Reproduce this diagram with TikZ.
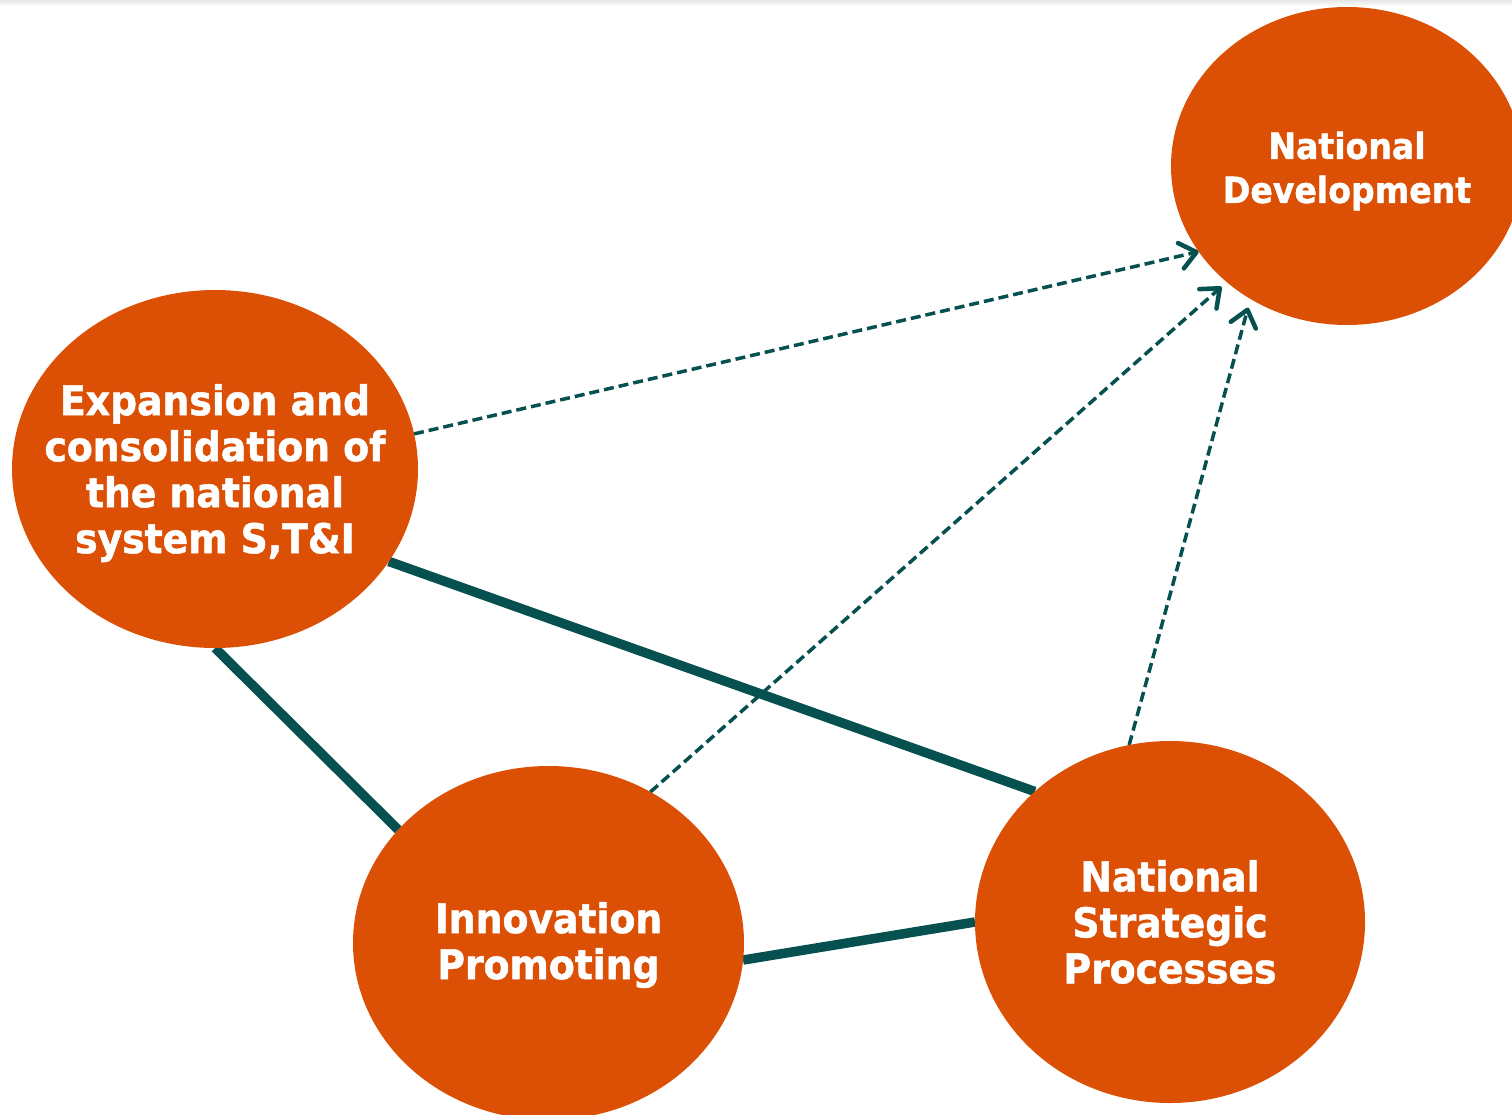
\documentclass[tikz,border=0pt]{standalone}
\usepackage{fontspec}
\setmainfont{DejaVu Sans}[FakeStretch=0.92, BoldFeatures={FakeBold=1.2}]
\usetikzlibrary{shapes.geometric,arrows.meta,backgrounds}

\definecolor{blobfill}{RGB}{220,80,5}
\definecolor{linkteal}{RGB}{6,80,80}

\tikzset{
  blob/.style={ellipse, fill=blobfill, draw=none, inner sep=0pt, outer sep=0pt},
  blobtext/.style={text=white, align=center, font=\bfseries\fontsize{41}{46}\selectfont},
  ndtext/.style={text=white, align=center, font=\bfseries\fontsize{36}{44}\selectfont},
  link/.style={draw=linkteal, line width=9.5pt},
  influence/.style={draw=linkteal, line width=3.5pt, dash pattern=on 10pt off 5pt,
    -{Straight Barb[length=16pt,width=26pt,line width=4.5pt,line cap=round,line join=round]}},
}

\begin{document}
\begin{tikzpicture}[x=1pt,y=-1pt]
  \useasboundingbox (0,0) rectangle (1512,1114);
  \clip (0,0) rectangle (1512,1114);
  \shade[top color=black!10, bottom color=white] (0,0) rectangle (1512,6);

  % ellipses
  \node[blob, minimum width=352pt, minimum height=318pt] (nd)  at (1347,166) {};
  \node[blob, minimum width=406pt, minimum height=358pt] (exp) at (215,469) {};
  \node[blob, minimum width=391pt, minimum height=354pt] (inn) at (548.5,943) {};
  \node[blob, minimum width=390pt, minimum height=362pt] (nsp) at (1170,922) {};

  % labels
  \node[ndtext]   (ndl)  at (1347,171) {National\\Development};
  \node[blobtext] (expl) at (215,473) {Expansion and\\consolidation of\\the national\\system S,T\&I};
  \node[blobtext] (innl) at (548.5,945) {Innovation\\Promoting};
  \node[blobtext] (nspl) at (1170,922) {National\\Strategic\\Processes};

  % connectors behind the ellipses
  \begin{scope}[on background layer]
    \draw[link] (exp.south) -- (inn.143);
    \draw[link] (exp.332) -- (nsp.136);
    \draw[link] (inn.355) -- (nsp.west);
    \draw[influence] (exp.10) -- (nd.210);
    \draw[influence, shorten >=7pt] (inn.56) -- (nd.224);
    \draw[influence, shorten >=9pt] (nsp.103) -- (nd.234);
  \end{scope}
\end{tikzpicture}
\end{document}
